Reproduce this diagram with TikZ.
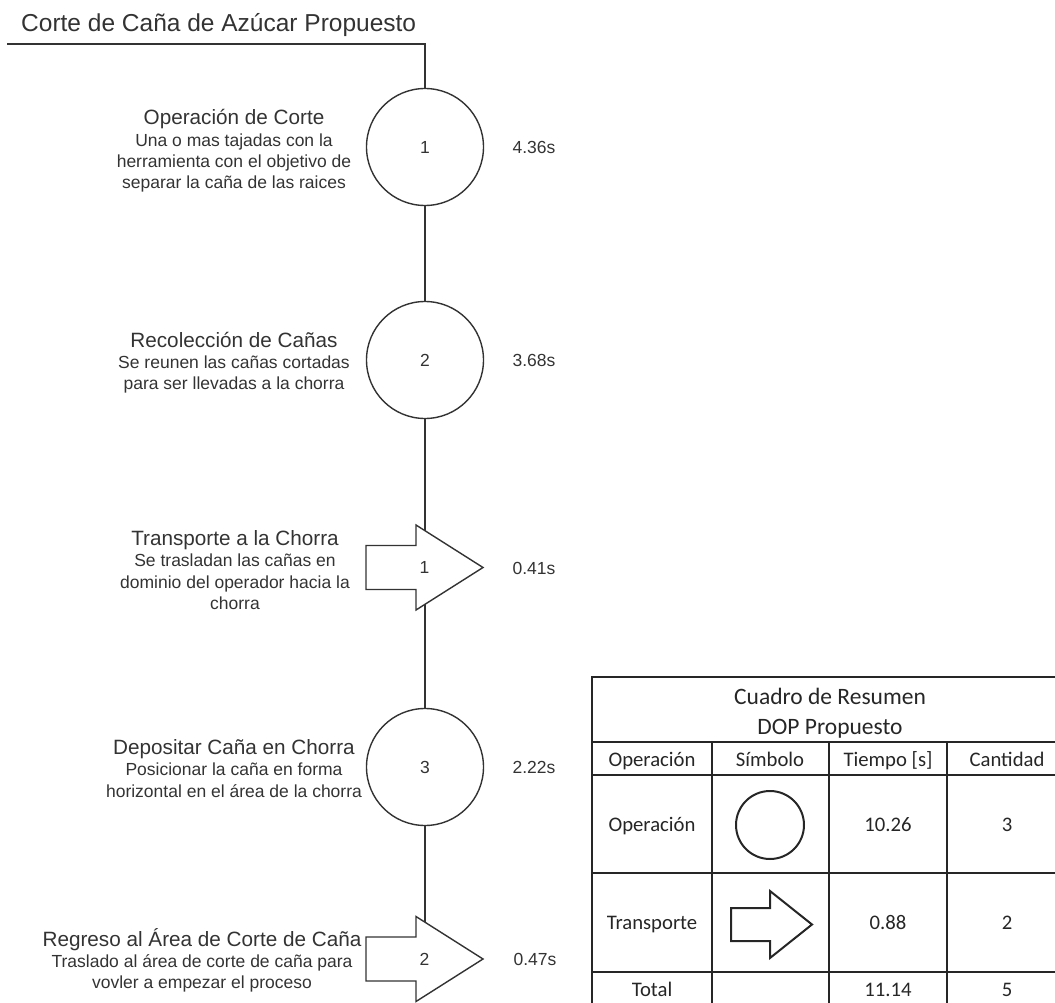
\documentclass[tikz,border=0pt]{standalone}
\usepackage{fontspec}
\setmainfont{Liberation Sans}
\newfontfamily\tabfont{Carlito}
\usetikzlibrary{calc}
\definecolor{ink}{HTML}{333333}
\definecolor{gridc}{HTML}{262626}
\tikzset{
  ln/.style={draw=ink, line width=1.4pt},
  grid/.style={draw=gridc, line width=1.6pt},
  gridthick/.style={draw=gridc, line width=2.2pt},
  opcircle/.style={circle, ln, minimum size=117pt, inner sep=0pt,
    font=\fontsize{17.5}{21}\selectfont, text=ink},
  trbox/.style={rectangle, minimum width=117pt, minimum height=85pt, inner sep=0pt,
    font=\fontsize{17.5}{21}\selectfont, text=ink},
  desc/.style={align=center, text=ink, inner sep=0pt, font=\fontsize{17.5}{21.3}\selectfont},
  timelbl/.style={text=ink, inner sep=0pt, text height=12.6pt, text depth=0pt, font=\fontsize{17.5}{21}\selectfont},
  tabhead/.style={text=black!85, inner sep=0pt, text height=15pt, text depth=0pt, font=\tabfont\fontsize{23.5}{28}\selectfont},
  tabcell/.style={text=black!85, inner sep=0pt, text height=13.4pt, text depth=0pt, font=\tabfont\fontsize{20.7}{24}\selectfont},
}
% block-arrow outline: centre, half length, head-base offset, shaft half width, head half width, style
\newcommand\blockarrow[6]{%
  \draw[#6] ($(#1)+(-#2,-#4)$) -- ($(#1)+(#3,-#4)$) -- ($(#1)+(#3,-#5)$)
    -- ($(#1)+(#2,0)$) -- ($(#1)+(#3,#5)$) -- ($(#1)+(#3,#4)$)
    -- ($(#1)+(-#2,#4)$) -- cycle;}
\newcommand\stepname[1]{{\fontsize{20.7}{22}\selectfont #1}}
\begin{document}
\begin{tikzpicture}[x=1pt, y=-1pt]
\useasboundingbox (0,0) rectangle (1055,1003);
\begin{scope}
\clip (0,0) rectangle (1055,1003);

% ---- title and lead-in line
\node[anchor=base west, inner sep=0pt, text=ink, font=\fontsize{24.5}{28}\selectfont]
  (title) at (21,32) {Corte de Caña de Azúcar Propuesto};
\coordinate (lead) at (7,44);

% ---- process steps
\node[opcircle] (op1) at (425,147) {1};
\node[opcircle] (op2) at (425,360) {2};
\node[trbox] (tr1) at (424.5,567.5) {1};
\node[opcircle] (op3) at (425,767) {3};
\node[trbox] (tr2) at (424.5,959) {2};
\blockarrow{tr1.center}{58.5}{-8.5}{22}{42.5}{ln}
\blockarrow{tr2.center}{58.5}{-8.5}{22}{42.5}{ln}

\coordinate (tr1in) at (425,531);
\coordinate (tr1out) at (425,604);
\coordinate (tr2in) at (425,922);

\draw[ln] (lead) -| (op1.north);
\draw[ln] (op1) -- (op2);
\draw[ln] (op2) -- (tr1in);
\draw[ln] (tr1out) -- (op3);
\draw[ln] (op3) -- (tr2in);

% ---- descriptions
\node[desc] (d1) at (234,151) {\stepname{Operación de Corte}\\Una o mas tajadas con la\\herramienta con el objetivo de\\separar la caña de las raices};
\node[desc] (d2) at (234,362.5) {\stepname{Recolección de Cañas}\\Se reunen las cañas cortadas\\para ser llevadas a la chorra};
\node[desc] (d3) at (235,570) {\stepname{Transporte a la Chorra}\\Se trasladan las cañas en\\dominio del operador hacia la\\chorra};
\node[desc] (d4) at (234,768.5) {\stepname{Depositar Caña en Chorra}\\Posicionar la caña en forma\\horizontal en el área de la chorra};
\node[desc] (d5) at (202,960.5) {\stepname{Regreso al Área de Corte de Caña}\\Traslado al área de corte de caña para\\vovler a empezar el proceso};

% ---- times
\node[timelbl] (t1) at (534,147) {4.36s};
\node[timelbl] (t2) at (534,360) {3.68s};
\node[timelbl] (t3) at (534,568) {0.41s};
\node[timelbl] (t4) at (534,767) {2.22s};
\node[timelbl] (t5) at (535,959) {0.47s};

% ---- summary table
\draw[grid] (712,742) -- (712,1010) (829,742) -- (829,1010) (947,742) -- (947,1010);
\draw[grid] (592,873) -- (1070,873);
\draw[gridthick] (592,1010) -- (592,677) -- (1070,677) -- (1070,1010);
\draw[gridthick] (592,742) -- (1070,742) (592,775) -- (1070,775) (592,972) -- (1070,972);

\node[tabhead] (h1) at (830,697) {Cuadro de Resumen};
\node[tabhead] (h2) at (830,727) {DOP Propuesto};

\node[tabcell] (c11) at (652,760) {Operación};
\node[tabcell] (c12) at (770,760) {Símbolo};
\node[tabcell] (c13) at (888,760) {Tiempo [s]};
\node[tabcell] (c14) at (1007,760) {Cantidad};

\node[tabcell] (c21) at (652,825) {Operación};
\node[circle, draw=gridc, line width=2pt, minimum size=68pt, inner sep=0pt] (sym1) at (770,825) {};
\node[tabcell] (c23) at (888,825) {10.26};
\node[tabcell] (c24) at (1007,825) {3};

\node[tabcell] (c31) at (652,923) {Transporte};
\coordinate (sym2) at (771.5,924.5);
\blockarrow{sym2}{40.5}{-1.5}{16.5}{33.5}{draw=gridc, line width=2pt}
\node[tabcell] (c33) at (888,923) {0.88};
\node[tabcell] (c34) at (1007,923) {2};

\node[tabcell] (c41) at (652,990) {Total};
\node[tabcell] (c43) at (888,990) {11.14};
\node[tabcell] (c44) at (1007,990) {5};
\end{scope}
\end{tikzpicture}
\end{document}
